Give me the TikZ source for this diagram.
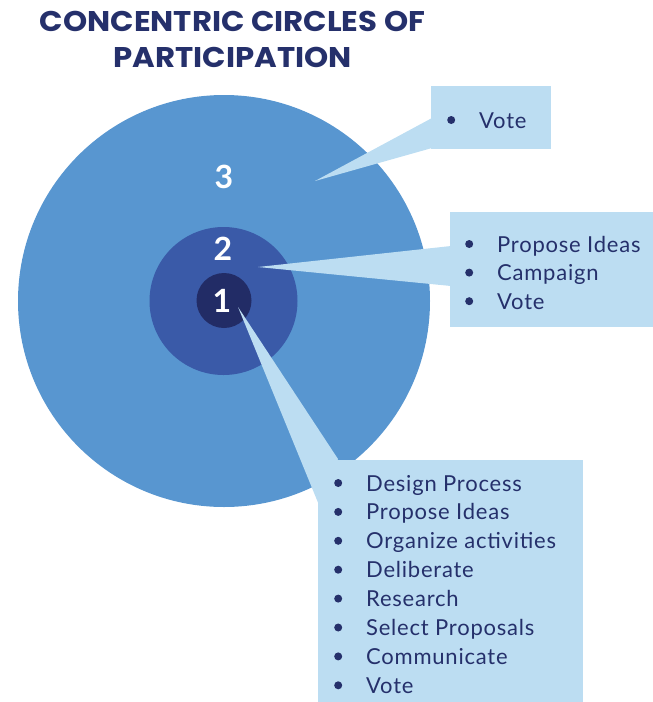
\documentclass[tikz,border=0pt]{standalone}
\usepackage{fontspec}
\setmainfont{Lato}[LetterSpace=3.5]
\newfontfamily\titlefont{Poppins}
\usetikzlibrary{calc}
\definecolor{ringout}{HTML}{5896D0}
\definecolor{ringmid}{HTML}{3A5AA8}
\definecolor{ringin}{HTML}{222C66}
\definecolor{callout}{HTML}{BCDDF2}
\definecolor{navy}{HTML}{25306B}
\newcommand\bul{\makebox[32pt][l]{\raisebox{4pt}{\tikz\fill[navy] (0,0) circle (4pt);}}}
\newcommand\wide[1]{\scalebox{1.08}[1]{#1}}
\tikzset{
  ring/.style={circle, inner sep=0pt, outer sep=0pt, minimum size=#1},
  num/.style={text=white, font=\fontsize{32}{32}\selectfont\bfseries, inner sep=0pt},
  box/.style={fill=callout, anchor=north west, inner sep=0pt, outer sep=0pt},
  items/.style={anchor=base west, inner sep=0pt, text=navy, font=\fontsize{22}{28.6}\selectfont},
  titletext/.style={anchor=base, inner sep=0pt, text=navy, font=\titlefont\bfseries\fontsize{28.5}{32}\selectfont},
  wedge/.style={fill=callout}
}
\begin{document}
\begin{tikzpicture}[x=1pt,y=-1pt]
\useasboundingbox (0,0) rectangle (653,702);
% title
\node[titletext] (title1) at (232.5,31.5) {\wide{CONCENTRIC CIRCLES OF}};
\node[titletext] (title2) at (232.5,67) {\wide{PARTICIPATION}};
% circles
\node[ring=412pt, fill=ringout] (c3) at (224,301) {};
\node[ring=148pt, fill=ringmid] (c2) at (223.5,301) {};
\node[ring=55pt, fill=ringin] (c1) at (224,300.5) {};
\node[num] (n3) at (224,176.5) {3};
\node[num] (n2) at (223,248.5) {2};
\node[num] (n1) at (222,300.5) {1};
% callout boxes
\node[box, minimum width=120pt, minimum height=63pt] (b3) at (431,86) {};
\node[box, minimum width=203pt, minimum height=115pt] (b2) at (450,212) {};
\node[box, minimum width=265pt, minimum height=242pt] (b1) at (318,460) {};
% pointer tips
\coordinate (p3) at (315,181);
\coordinate (p2) at (258,267);
\coordinate (p1) at (238,307);
% wedges
\fill[wedge] (p3) -- ($(b3.north west)+(1,32)$) -- ($(b3.north west)+(1,62)$) -- cycle;
\fill[wedge] (p2) -- ($(b2.north west)+(1,34)$) -- ($(b2.north west)+(1,74)$) -- cycle;
\fill[wedge] (p1) -- ($(b1.north west)+(20,-1)$) -- ($(b1.north west)+(1,45)$) -- cycle;
% texts
\node[items] (t3) at (447,128) {\begin{tabular}[t]{@{}l@{}}\bul Vote\end{tabular}};
\node[items] (t2) at (465,252) {\begin{tabular}[t]{@{}l@{}}\bul Propose Ideas\\ \bul Campaign\\ \bul Vote\end{tabular}};
\node[items, font=\fontsize{22}{28.9}\selectfont] (t1) at (334,491) {\begin{tabular}[t]{@{}l@{}}\bul Design Process\\ \bul Propose Ideas\\ \bul Organize activities\\ \bul Deliberate\\ \bul Research\\ \bul Select Proposals\\ \bul Communicate\\ \bul Vote\end{tabular}};
\end{tikzpicture}
\end{document}
